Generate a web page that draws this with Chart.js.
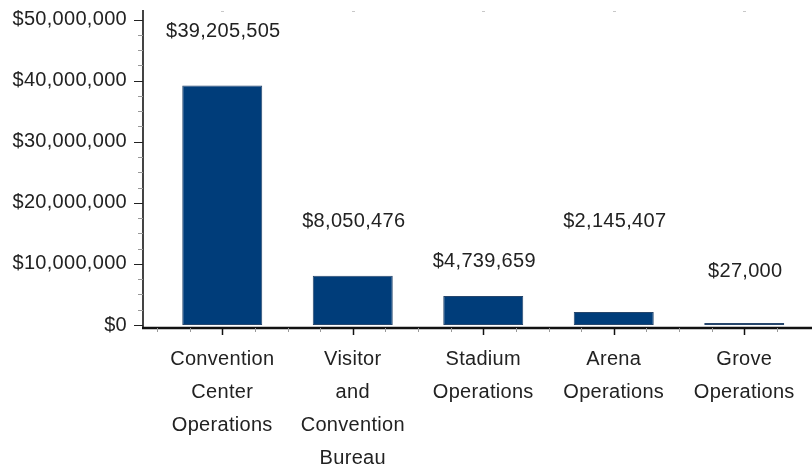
<!DOCTYPE html>
<html>
<head>
<meta charset="utf-8">
<title>Operating budget by division</title>
<script src="https://cdn.jsdelivr.net/npm/chart.js@4.4.1/dist/chart.umd.min.js"></script>
<style>
  html, body { margin: 0; padding: 0; background: #fff; }
  #wrap { width: 812px; height: 471px; position: relative; }
</style>
</head>
<body>
<div id="wrap"><canvas id="budget"></canvas></div>
<script>
const divisions = [
  ["Convention", "Center", "Operations"],
  ["Visitor", "and", "Convention", "Bureau"],
  ["Stadium", "Operations"],
  ["Arena", "Operations"],
  ["Grove", "Operations"],
];
const budgets = [39205505, 8050476, 4739659, 2145407, 27000];
// height (in dollars on the axis) where each amount label is centred
const labelLevels = [48000000, 16900000, 10400000, 16900000, 8700000];
const yMax = 50000000;
const yStep = 10000000;
const yMinorStep = 2500000;

const FONT = "'Liberation Sans', Arial, sans-serif";
const SPACING = "0.3px";
const money = (v) => "$" + Number(v).toLocaleString("en-US");

// slightly spaced lettering used throughout
const spacing = {
  id: "spacing",
  beforeLayout(chart) { chart.ctx.letterSpacing = SPACING; },
  beforeDraw(chart) { chart.ctx.letterSpacing = SPACING; },
};

// axis lines with their major / minor tick marks
const axes = {
  id: "axes",
  afterDraw(chart) {
    const { ctx, scales } = chart;
    const x = scales.x, y = scales.y;
    const axisX = 143;
    const axisY = 328;
    ctx.save();
    ctx.lineCap = "butt";

    // y axis
    ctx.strokeStyle = "#444";
    ctx.lineWidth = 2;
    ctx.beginPath();
    ctx.moveTo(axisX, 10);
    ctx.lineTo(axisX, axisY);
    ctx.stroke();
    for (let v = 0; v <= yMax; v += yMinorStep) {
      const py = Math.round(y.getPixelForValue(v)) + 0.5;
      const major = v % yStep === 0;
      ctx.strokeStyle = major ? "#222" : "#999";
      ctx.lineWidth = 1;
      ctx.beginPath();
      ctx.moveTo(major ? axisX - 9 : axisX - 5, py);
      ctx.lineTo(axisX, py);
      ctx.stroke();
    }

    // x axis
    ctx.strokeStyle = "#111";
    ctx.lineWidth = 2.5;
    ctx.beginPath();
    ctx.moveTo(axisX - 1, axisY);
    ctx.lineTo(chart.width, axisY);
    ctx.stroke();
    divisions.forEach((_, i) => {
      for (let q = -2; q <= 1; q++) {
        const px = Math.round(x.getPixelForValue(i) + (q * x.width) / (divisions.length * 4)) + 0.5;
        const major = q === 0;
        ctx.strokeStyle = major ? "#111" : "#999";
        ctx.lineWidth = major ? 1.5 : 1;
        ctx.beginPath();
        ctx.moveTo(px, axisY);
        ctx.lineTo(px, axisY + (major ? 7 : 4));
        ctx.stroke();
      }
      // faint marks along the top edge
      const cx = Math.round(x.getPixelForValue(i));
      ctx.strokeStyle = "#c8c8c8";
      ctx.lineWidth = 1;
      ctx.beginPath();
      ctx.moveTo(cx - 1, 11.5);
      ctx.lineTo(cx + 2, 11.5);
      ctx.stroke();
    });
    ctx.restore();
  },
};

// dollar amounts written above each bar
const amounts = {
  id: "amounts",
  afterDatasetsDraw(chart) {
    const { ctx, scales } = chart;
    ctx.save();
    ctx.letterSpacing = SPACING;
    ctx.font = "20px " + FONT;
    ctx.fillStyle = "#222";
    ctx.textAlign = "center";
    ctx.textBaseline = "middle";
    budgets.forEach((v, i) => {
      ctx.fillText(money(v), scales.x.getPixelForValue(i) + 1, scales.y.getPixelForValue(labelLevels[i]));
    });
    ctx.restore();
  },
};

new Chart(document.getElementById("budget"), {
  type: "bar",
  data: {
    labels: divisions,
    datasets: [
      {
        data: budgets,
        backgroundColor: "#003d7a",
        borderColor: "#26466c",
        borderWidth: 1,
        borderSkipped: false,
        minBarLength: 2,
        barPercentage: 0.613,
        categoryPercentage: 1,
      },
    ],
  },
  options: {
    responsive: true,
    maintainAspectRatio: false,
    animation: false,
    events: [],
    layout: { padding: { top: 19.5, right: 2.5, left: 0, bottom: 0 } },
    plugins: { legend: { display: false }, tooltip: { enabled: false } },
    scales: {
      x: {
        grid: { display: false },
        border: { display: false },
        ticks: {
          font: { family: FONT, size: 20, lineHeight: 1.65 },
          color: "#222",
          padding: 10,
          maxRotation: 0,
          autoSkip: false,
        },
        afterFit(scale) { scale.height = 146; },
      },
      y: {
        min: 0,
        max: yMax,
        grid: { display: false },
        border: { display: false },
        ticks: {
          stepSize: yStep,
          font: { family: FONT, size: 20 },
          color: "#222",
          padding: 22,
          callback: (v) => money(v),
        },
        afterFit(scale) {
          scale.width = 157;
          scale.paddingTop = 0;
          scale.paddingBottom = 0;
        },
      },
    },
  },
  plugins: [spacing, axes, amounts],
});
</script>
</body>
</html>
